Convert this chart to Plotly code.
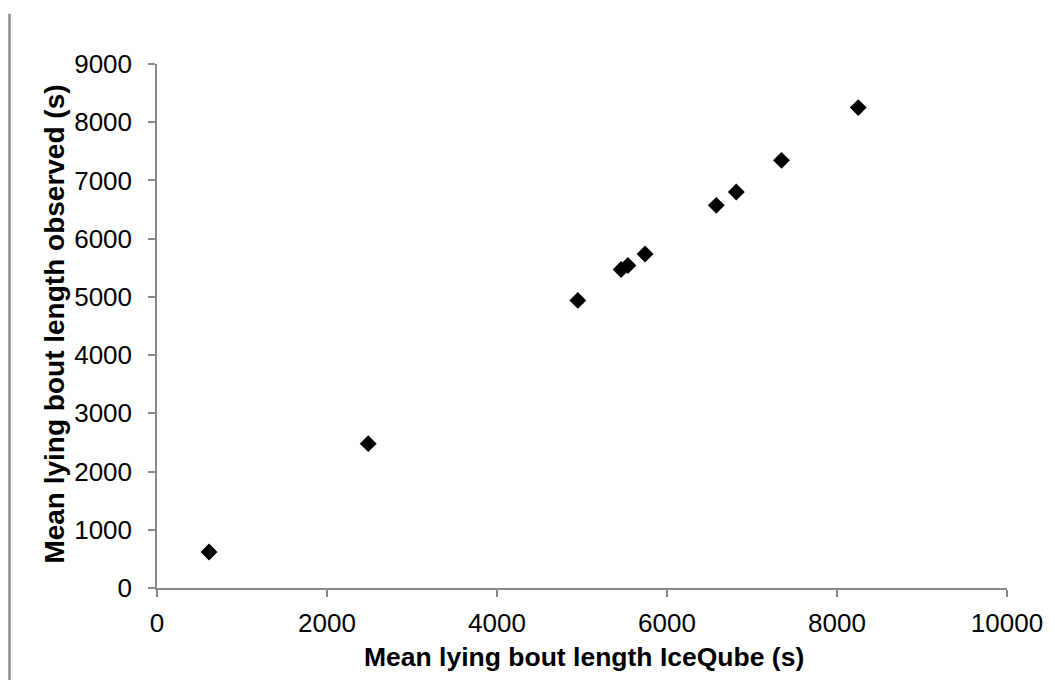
import plotly.graph_objects as go

iceqube = [612, 2485, 4951, 5460, 5540, 5742, 6580, 6815, 7347, 8250]
observed = [618, 2479, 4940, 5470, 5540, 5736, 6572, 6802, 7345, 8251]

x_ticks = [0, 2000, 4000, 6000, 8000, 10000]
y_ticks = [0, 1000, 2000, 3000, 4000, 5000, 6000, 7000, 8000, 9000]

x_title = "Mean lying bout length IceQube (s)"
y_title = "Mean lying bout length observed (s)"

axis_grey = "#898989"
font_family = "Liberation Sans, Arial, sans-serif"

fig = go.Figure()
fig.add_trace(go.Scatter(
    x=iceqube, y=observed, mode="markers",
    marker=dict(symbol="diamond", size=13, color="black", line=dict(width=0)),
    showlegend=False, cliponaxis=False,
))

fig.update_layout(
    width=1055, height=680,
    margin=dict(l=157, r=46, t=64, b=92),
    paper_bgcolor="white", plot_bgcolor="white",
    font=dict(family=font_family, color="black", size=26),
    xaxis=dict(
        range=[0, 10000], tickvals=x_ticks, ticktext=[str(v) for v in x_ticks],
        showgrid=False, zeroline=False, showline=True, linecolor=axis_grey, linewidth=1.5,
        ticks="outside", ticklen=7, tickcolor=axis_grey, tickwidth=1.5,
        tickfont=dict(size=26, color="black"), ticklabelstandoff=4,
    ),
    yaxis=dict(
        range=[0, 9000], tickvals=y_ticks, ticktext=[str(v) for v in y_ticks],
        showgrid=False, zeroline=False, showline=True, linecolor=axis_grey, linewidth=1.5,
        ticks="outside", ticklen=7, tickcolor=axis_grey, tickwidth=1.5,
        tickfont=dict(size=26, color="black"), ticklabelstandoff=11,
    ),
    annotations=[
        dict(text="<b>" + x_title + "</b>", xref="paper", yref="paper",
             x=0.5022, y=-0.1311, xanchor="center", yanchor="middle",
             showarrow=False, font=dict(size=26.5, color="black")),
        dict(text="<b>" + y_title + "</b>", xref="paper", yref="paper",
             x=-0.1201, y=0.5044, xanchor="center", yanchor="middle", textangle=-90,
             showarrow=False, font=dict(size=28, color="black")),
    ],
    shapes=[dict(
        type="line", xref="paper", yref="paper",
        x0=-0.1735, x1=-0.1735, y0=1.096, y1=-0.2,
        line=dict(color="#8c8c8c", width=2.5),
    )],
)

fig.write_html("out.html")
